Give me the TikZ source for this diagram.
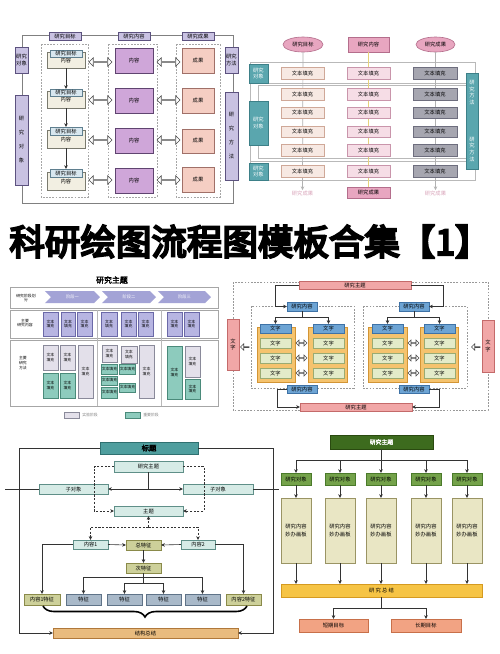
\documentclass[tikz,border=0pt]{standalone}
\usepackage{fontspec}
\newfontfamily\cjk{Noto Sans CJK SC}
\newfontfamily\cjkbold[FakeBold=2.5]{Noto Sans CJK SC}
\newfontfamily\cjkheavy[FakeBold=6]{Noto Sans CJK SC}
\usetikzlibrary{shapes.geometric,shapes.arrows,shapes.symbols,decorations.pathreplacing,arrows.meta}
\definecolor{lavF}{HTML}{C9C2E2}\definecolor{lavD}{HTML}{5C527F}
\definecolor{frG}{HTML}{808080}
\definecolor{begF}{HTML}{F2EFE2}\definecolor{begD}{HTML}{7A7A6E}
\definecolor{hdrF}{HTML}{D8E7EF}\definecolor{hdrD}{HTML}{5F7F8F}
\definecolor{purF}{HTML}{CFA6D9}\definecolor{purD}{HTML}{5F4470}
\definecolor{pnkF}{HTML}{F5CEC3}\definecolor{pnkD}{HTML}{A07068}
\definecolor{rosF}{HTML}{E8A6C0}\definecolor{rosD}{HTML}{B46E8C}\definecolor{rosT}{HTML}{D9A3B9}
\definecolor{c1F}{HTML}{F7E9E3}\definecolor{c1D}{HTML}{CFA898}
\definecolor{c2F}{HTML}{F6DDE6}\definecolor{c2D}{HTML}{C995AB}
\definecolor{c3F}{HTML}{A6A6B0}\definecolor{c3D}{HTML}{6E6E7E}
\definecolor{tealF}{HTML}{5AA6AE}\definecolor{tealD}{HTML}{3D8088}
\definecolor{yelL}{HTML}{E6D27A}
\definecolor{chvF}{HTML}{A3A3D6}
\definecolor{p3F}{HTML}{B7B5E2}\definecolor{p3D}{HTML}{6B69A8}
\definecolor{gyF}{HTML}{E3E0EA}\definecolor{gyD}{HTML}{8A8A9A}
\definecolor{tqF}{HTML}{8DCBBD}\definecolor{tqD}{HTML}{4A8A7A}
\definecolor{prbF}{HTML}{F1A7A7}\definecolor{prbD}{HTML}{C46A6A}
\definecolor{bluF}{HTML}{6DA4D4}\definecolor{bluD}{HTML}{3E72A6}
\definecolor{orgF}{HTML}{F5C36E}\definecolor{orgD}{HTML}{D39535}
\definecolor{grnF}{HTML}{E3EBC9}\definecolor{grnD}{HTML}{9AAB72}
\definecolor{ttlF}{HTML}{4F9E9E}\definecolor{ttlD}{HTML}{2F7070}
\definecolor{ltF}{HTML}{D6EBE6}\definecolor{ltD}{HTML}{5F8F88}
\definecolor{olF}{HTML}{CDD09A}\definecolor{olD}{HTML}{8A8A4A}
\definecolor{gbF}{HTML}{A9B9C9}\definecolor{gbD}{HTML}{5F7388}
\definecolor{sumF}{HTML}{E9BB7E}\definecolor{sumD}{HTML}{B0783A}
\definecolor{dgF}{HTML}{3D6B1E}\definecolor{dgD}{HTML}{2A4A10}
\definecolor{mgF}{HTML}{74A24A}\definecolor{mgD}{HTML}{4A7A2A}
\definecolor{khF}{HTML}{E9E6C4}\definecolor{khD}{HTML}{9A9464}
\definecolor{ybF}{HTML}{F6C445}\definecolor{ybD}{HTML}{D59A20}
\definecolor{slF}{HTML}{F2A383}\definecolor{slD}{HTML}{C8704A}
\newcommand\mybox[7][]{\node[bx,#1,minimum width={(#5-(#3))*0.02cm},minimum height={(#6-(#4))*0.02cm}] (#2) at ({(#3+#5)/2},{(#4+#6)/2}) {#7};}
\tikzset{
 bx/.style={draw,line width=0.35pt,inner sep=0pt,outer sep=0pt,align=center,font=\cjk\fontsize{3}{3.8}\selectfont},
 fc/.style 2 args={fill=#1,draw=#2},
 lav/.style={fc={lavF}{lavD}}, beg/.style={fc={begF}{begD}}, hdr/.style={fc={hdrF}{hdrD}},
 pur/.style={fc={purF}{purD}}, pnk/.style={fc={pnkF}{pnkD}}, ros/.style={fc={rosF}{rosD}},
 ca/.style={fc={c1F}{c1D}}, cb/.style={fc={c2F}{c2D}}, cc/.style={fc={c3F}{c3D}},
 tl/.style={fc={tealF}{tealD},text=white},
 pp/.style={fc={p3F}{p3D},font=\cjk\fontsize{2.2}{2.8}\selectfont},
 gy/.style={fc={gyF}{gyD},font=\cjk\fontsize{2.2}{2.8}\selectfont},
 tq/.style={fc={tqF}{tqD},font=\cjk\fontsize{2.2}{2.8}\selectfont},
 prb/.style={fc={prbF}{prbD}}, blu/.style={fc={bluF}{bluD}}, org/.style={fc={orgF}{orgD}}, grn/.style={fc={grnF}{grnD}},
 ttl/.style={fc={ttlF}{ttlD},font=\cjkbold\fontsize{4.2}{5}\selectfont},
 lt/.style={fc={ltF}{ltD}}, ol/.style={fc={olF}{olD}}, gb/.style={fc={gbF}{gbD}}, sm/.style={fc={sumF}{sumD}},
 dg/.style={fc={dgF}{dgD},text=white,font=\cjkbold\fontsize{3.3}{4}\selectfont},
 mg/.style={fc={mgF}{mgD}}, kh/.style={fc={khF}{khD},font=\cjk\fontsize{3}{4.6}\selectfont},
 yb/.style={fc={ybF}{ybD}}, sl/.style={fc={slF}{slD}},
 grp/.style={draw=gray!70,line width=0.35pt,dash pattern=on 1pt off 0.8pt},
 gl/.style={draw=gray!55,line width=0.4pt},
 cn/.style={draw=gray!40!black,line width=0.35pt},
 dsh/.style={dash pattern=on 1.2pt off 0.9pt},
 dar/.style={double arrow,draw=gray!60!black,fill=white,line width=0.3pt,inner sep=0pt,double arrow head extend=0.035cm},
 sar/.style={single arrow,shape border rotate=180,draw=gray!60!black,fill=white,line width=0.3pt,inner sep=0pt,single arrow head extend=0.03cm,minimum height=0.17cm,minimum width=0.13cm},
 lbl/.style={inner sep=0pt,align=center,font=\cjk\fontsize{2.2}{2.8}\selectfont},
 chv/.style={signal,signal to=east,signal from=west,fill=chvF,inner sep=0pt,text=white,font=\cjk\fontsize{2.4}{3}\selectfont}
}
\begin{document}
\begin{tikzpicture}[x=0.02cm,y=-0.02cm,>={Stealth[length=2.2pt,width=2pt]}]
\useasboundingbox[fill=white] (0,0) rectangle (500,654);

%%%%% Panel 1
\draw[draw=frG,line width=0.5pt] (22,35) rectangle (233,203);
\draw[grp] (41,44) rectangle (88,197);
\draw[grp] (108,44) rectangle (157,197);
\draw[grp] (176,44) rectangle (220,197);
\mybox[lav]{p1h1}{49}{32}{81}{40}{研究目标}
\mybox[lav]{p1h2}{118}{32}{150}{40}{研究内容}
\mybox[lav]{p1h3}{182}{32}{214}{40}{研究成果}
\mybox[lav]{p1l1}{15}{47}{28}{73}{研究\\对象}
\mybox[lav,font=\cjk\fontsize{3}{8}\selectfont]{p1l2}{15}{95}{28}{185}{研\\究\\对\\象}
\mybox[lav]{p1r1}{225}{47}{238}{73}{研究\\方法}
\mybox[lav,font=\cjk\fontsize{3}{8}\selectfont]{p1r2}{225}{92}{238}{180}{研\\究\\方\\法}
\mybox[beg]{p1b1}{47}{52}{85}{68}{内容}
\mybox[hdr]{p1a1}{50}{50}{82}{57}{研究目标}
\mybox[beg]{p1b2}{47}{91}{85}{108}{内容}
\mybox[hdr]{p1a2}{50}{89}{82}{96}{研究目标}
\mybox[beg]{p1b3}{47}{130}{85}{148}{内容}
\mybox[hdr]{p1a3}{50}{127}{82}{135}{研究目标}
\mybox[beg]{p1b4}{47}{172}{85}{190}{内容}
\mybox[hdr]{p1a4}{50}{169}{82}{177}{研究目标}
\draw[cn,->] (p1b1.south) -- (p1a2.north);
\draw[cn,->] (p1b2.south) -- (p1a3.north);
\draw[cn,->] (p1b3.south) -- (p1a4.north);
\mybox[pur]{p1m1}{115}{48}{153}{73}{内容}
\mybox[pur]{p1m2}{115}{88}{153}{113}{内容}
\mybox[pur]{p1m3}{115}{128}{153}{153}{内容}
\mybox[pur]{p1m4}{115}{168}{153}{193}{内容}
\mybox[pnk]{p1p1}{182}{48}{214}{73}{成果}
\mybox[pnk]{p1p2}{182}{88}{214}{113}{成果}
\mybox[pnk]{p1p3}{182}{129}{214}{153}{成果}
\mybox[pnk]{p1p4}{182}{167}{214}{192}{成果}
\foreach \yy/\nn in {62/1,100/2,140/3,180/4}{
 \node[dar,minimum height=0.46cm,minimum width=0.17cm] (p1da\nn) at (100.5,\yy) {};
 \node[dar,minimum height=0.46cm,minimum width=0.17cm] (p1db\nn) at (168.5,\yy) {};
}

%%%%% Panel 2
\draw[gl] (250,62) rectangle (475,180);
\draw[gl] (250,83) -- (475,83);
\draw[gl] (250,161.5) -- (475,161.5);
\draw[gl] (258,85.5) rectangle (470,158.5);
\mybox[ros,ellipse]{p2e1}{283}{37}{323}{52}{研究目标}
\mybox[ros]{p2e2}{348}{37}{389}{52}{研究内容}
\mybox[ros,ellipse]{p2e3}{416}{37}{455}{52}{研究成果}
\mybox[ros]{p2b}{347}{187}{390}{198}{研究成果}
\node[lbl,text=rosT,font=\cjk\fontsize{3}{3.6}\selectfont] (p2t1) at (302.5,193) {研究成果};
\node[lbl,text=rosT,font=\cjk\fontsize{3}{3.6}\selectfont] (p2t3) at (435.5,193) {研究成果};
\draw[draw=gray!60,line width=0.4pt,->] (p2e1.south) -- (p2t1.north);
\draw[draw=yelL,line width=0.6pt] (p2e2.south) -- (p2b.north);
\draw[draw=gray!60,line width=0.4pt,->] (p2e3.south) -- (p2t3.north);
\foreach \ya/\yb [count=\i] in {67/79,88/100,107/118,126/137,144/156,165/177}{
 \mybox[ca]{p2a\i}{281}{\ya}{324}{\yb}{文本填充}
 \mybox[cb]{p2b\i}{347}{\ya}{390}{\yb}{文本填充}
 \mybox[cc]{p2c\i}{413}{\ya}{457}{\yb}{文本填充}
}
\mybox[tl]{p2l1}{249}{64}{268}{83}{研究\\对象}
\mybox[tl]{p2l2}{249}{101}{268}{145}{研究\\对象}
\mybox[tl]{p2l3}{249}{163}{268}{180}{研究\\对象}
\mybox[tl,font=\cjk\fontsize{3}{3.8}\selectfont]{p2r}{466}{73}{478}{169}{研\\究\\方\\法\\[17pt]研\\究\\方\\法}

%%%%% Title
\node[inner sep=0pt,font=\cjkheavy\fontsize{20.2}{22}\selectfont] (title) at (250,241.5) {科研绘图流程图模板合集【1】};

%%%%% Panel 3
\node[inner sep=0pt,font=\cjkbold\fontsize{4.5}{5}\selectfont] (p3t) at (112,280) {研究主题};
\mybox[fill=white,draw=gray!70]{p3r1}{10}{287}{218}{308}{}
\mybox[fill=white,draw=gray!70]{p3r2}{10}{310}{218}{338}{}
\mybox[fill=white,draw=gray!70]{p3r3}{10}{340}{218}{406}{}
\draw[gl] (97,310) -- (97,406);
\draw[gl] (161,310) -- (161,406);
\node[lbl] (p3l1) at (26,298) {研究阶段划\\分};
\node[lbl] (p3l2) at (25,323) {主要\\研究内容};
\node[lbl] (p3l3) at (23,363) {主要\\研究\\方法};
\mybox[chv,draw=none]{p3s1}{45}{291}{100}{303}{阶段一}
\mybox[chv,draw=none]{p3s2}{102}{291}{156}{303}{阶段二}
\mybox[chv,draw=none]{p3s3}{158}{291}{211}{303}{阶段三}
\foreach \xa/\xb [count=\i] in {43/58,61/75,77/92,101/117,121/136,138/153,167/182,184/199}{
 \mybox[pp]{p3p\i}{\xa}{312}{\xb}{336}{文本\\填充}
}
\mybox[gy]{p3g1}{43}{345}{58}{370}{文本\\填充}
\mybox[gy]{p3g2}{60}{345}{75}{370}{文本\\填充}
\mybox[gy]{p3g3}{78}{345}{93}{398}{文本\\填充}
\mybox[tq]{p3q1}{43}{373}{58}{398}{文本\\填充}
\mybox[tq]{p3q2}{60}{373}{75}{398}{文本\\填充}
\mybox[gy]{p3g4}{102}{345}{117}{362}{文本\\填充}
\mybox[gy]{p3g5}{121}{346}{137}{363}{文本\\填充}
\mybox[tq]{p3q3}{102}{364}{117}{374}{文本填充}
\mybox[tq]{p3q4}{102}{376}{117}{385}{文本填充}
\mybox[tq]{p3q5}{102}{387}{117}{398}{文本填充}
\mybox[tq]{p3q6}{120}{364}{135}{374}{文本填充}
\mybox[tq]{p3q7}{120}{383}{135}{392}{文本填充}
\mybox[gy]{p3g6}{139}{345}{154}{398}{文本\\填充}
\mybox[tq]{p3q8}{167}{346}{182}{399}{文本\\填充}
\mybox[gy]{p3g7}{185}{346}{200}{377}{文本\\填充}
\mybox[tq]{p3q9}{185}{379}{200}{399}{文本\\填充}
\mybox[gy]{p3lg1}{64}{412}{79}{418}{}
\node[lbl,text=gray] (p3lt1) at (90,415) {实验阶段};
\mybox[tq]{p3lg2}{125}{412}{140}{418}{}
\node[lbl,text=gray] (p3lt2) at (151,415) {重要阶段};

%%%%% Panel 4
\draw[grp,draw=gray!80] (233,282) rectangle (488,410);
\draw[grp,draw=gray!80] (251,306) rectangle (354,388);
\draw[grp,draw=gray!80] (363,306) rectangle (467,388);
\mybox[prb]{p4tb}{299}{281}{411}{289}{研究主题}
\mybox[prb]{p4bb}{300}{403}{412}{411}{研究主题}
\mybox[prb]{p4l}{227}{319}{239}{370}{文\\字}
\mybox[prb]{p4r}{482}{320}{494}{372}{文\\字}
\node[sar] (p4al) at (245,347) {};
\node[sar] (p4ar) at (476,347) {};
\mybox[blu]{p4lt}{287}{302}{317}{311}{研究内容}
\mybox[blu]{p4lb}{287}{385}{317}{393}{研究内容}
\mybox[blu]{p4rt}{399}{302}{429}{311}{研究内容}
\mybox[blu]{p4rb}{399}{385}{429}{393}{研究内容}
\foreach \xa/\xb/\ha/\hb [count=\i] in {257/295/260/291,308/347/313/344,368/407/372/403,420/458/424/455}{
 \mybox[org]{p4c\i}{\xa}{327}{\xb}{382}{}
 \mybox[blu]{p4h\i}{\ha}{324}{\hb}{333}{文字}
 \mybox[grn]{p4g\i a}{\ha}{338}{\hb}{348}{文字}
 \mybox[grn]{p4g\i b}{\ha}{353}{\hb}{363}{文字}
 \mybox[grn]{p4g\i c}{\ha}{368}{\hb}{378}{文字}
}
\foreach \yy/\nn in {343/1,358/2,373/3}{
 \node[dar,minimum height=0.22cm,minimum width=0.12cm] (p4da\nn) at (301.5,\yy) {};
 \node[dar,minimum height=0.22cm,minimum width=0.12cm] (p4db\nn) at (413.5,\yy) {};
}
\draw[cn,->] (p4tb.west) -- (275,285) |- (p4lt.west);
\draw[cn,->] (p4tb.east) -- (443,285) |- (p4rt.east);
\draw[cn,->] (p4lb.west) -- (277,389) |- (p4bb.west);
\draw[cn,->] (p4rb.east) -- (439,389) |- (p4bb.east);
\draw[cn] (p4lt.south) -- (302,317) coordinate (p4j1);
\draw[cn,->] (p4j1) -| (p4h1.north);
\draw[cn,->] (p4j1) -| (p4h2.north);
\draw[cn] (p4rt.south) -- (414,317) coordinate (p4j2);
\draw[cn,->] (p4j2) -| (p4h3.north);
\draw[cn,->] (p4j2) -| (p4h4.north);

%%%%% Panel 5
\mybox[ttl]{p5t}{100}{442}{198}{454}{标题}
\mybox[lt]{p5z}{114}{461}{183}{472}{研究主题}
\mybox[lt]{p5c1}{39}{484}{108}{494}{子对象}
\mybox[lt]{p5c2}{183}{484}{253}{494}{子对象}
\mybox[lt]{p5m}{114}{506}{183}{516}{主题}
\mybox[lt]{p5n1}{73}{540}{108}{549}{内容1}
\mybox[lt]{p5n2}{181}{540}{215}{549}{内容2}
\mybox[ol]{p5f}{126}{540}{161}{550}{总特征}
\mybox[ol]{p5g}{126}{563}{161}{573}{次特征}
\mybox[ol]{p5e1}{24}{594}{60}{605}{内容1特征}
\mybox[gb]{p5k1}{66}{594}{101}{605}{特征}
\mybox[gb]{p5k2}{107}{594}{142}{605}{特征}
\mybox[gb]{p5k3}{146}{594}{181}{605}{特征}
\mybox[gb]{p5k4}{185}{594}{220}{605}{特征}
\mybox[ol]{p5e2}{226}{594}{261}{605}{内容2特征}
\mybox[sm]{p5s}{53}{628}{238}{638}{结构总结}
\draw[cn,->] (p5t.west) -- (19,448) -- (19,633) -- (p5s.west);
\draw[cn,->] (p5t.east) -- (273,448) -- (273,633) -- (p5s.east);
\draw[cn] (p5c1.west) -- (5,489);
\draw[cn] (p5c2.east) -- (279,489);
\draw[cn] (p5z.south) -- (148.5,489) coordinate (p5j1);
\draw[cn,->] (p5j1) -- (p5c1.east);
\draw[cn,->] (p5j1) -- (p5c2.west);
\draw[cn,dsh,->] (p5z.west) -- (94,466.5) -- (94,511) -- (p5m.west);
\draw[cn,dsh,->] (p5z.east) -- (204,466.5) -- (204,511) -- (p5m.east);
\draw[cn,dsh,->] (148.5,527) coordinate (p5j2) -- (p5m.south);
\draw[cn,dsh,->] (p5j2) -| (p5n1.north);
\draw[cn,dsh,->] (p5j2) -| (p5n2.north);
\draw[cn,->] (p5n1.east) -- (p5f.west);
\draw[cn,->] (p5n2.west) -- (p5f.east);
\draw[cn,->] (p5f.south) -- (p5g.north);
\draw[cn] (p5g.south) -- (143.5,583) coordinate (p5j4);
\coordinate (p5j3) at (143.5,577);
\draw[cn,->] (p5j3) -| (p5k1.north);
\draw[cn,->] (p5j3) -| (p5k4.north);
\draw[cn,->] (p5j4) -| (p5k2.north);
\draw[cn,->] (p5j4) -| (p5k3.north);
\draw[cn,->] (p5n1.west) -| (p5e1.north);
\draw[cn,->] (p5n2.east) -| (p5e2.north);
\draw[decorate,decoration={brace,mirror,amplitude=0.22cm},line width=0.9pt] (43,606) -- (247,606);

%%%%% Panel 6
\mybox[dg]{p6t}{330}{435}{433}{449}{研究主题}
\foreach \xa/\xb [count=\i] in {281/311,325/355,366/396,411/441,452/482}{
 \mybox[mg]{p6o\i}{\xa}{473}{\xb}{485}{研究对象}
 \mybox[kh]{p6k\i}{\xa}{498}{\xb}{563}{研究内容\\妙办画板}
}
\mybox[yb]{p6s}{281}{584}{482}{597}{研\ 究\ 总\ 结}
\mybox[sl]{p6g1}{299}{619}{368}{632}{短期目标}
\mybox[sl]{p6g2}{391}{619}{461}{632}{长期目标}
\draw[cn] (p6t.south) -- (381.5,460) coordinate (p6j);
\foreach \i in {1,...,5}{
 \draw[cn,->] (p6j) -| (p6o\i.north);
 \draw[cn,->] (p6o\i.south) -- (p6k\i.north);
 \draw[cn,->] (p6k\i.south) -- (p6k\i.south |- p6s.north);
}
\draw[cn] (p6s.south) -- (381.5,608) coordinate (p6m);
\draw[cn,->] (p6m) -| (p6g1.north);
\draw[cn,->] (p6m) -| (p6g2.north);
\end{tikzpicture}
\end{document}
